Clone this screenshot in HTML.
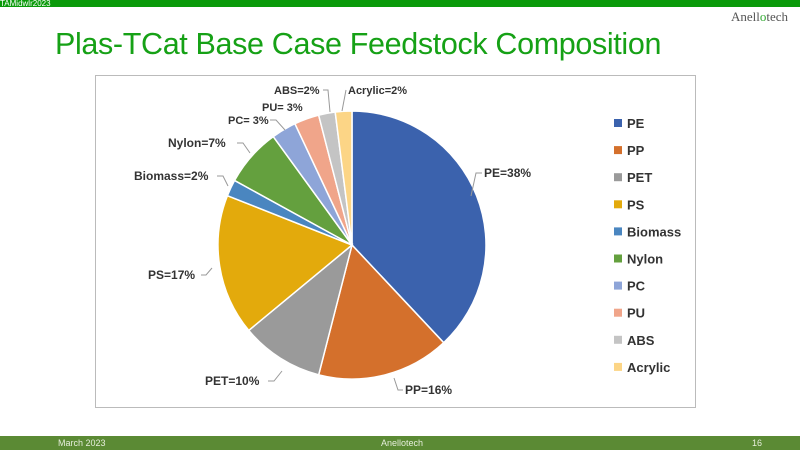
<!DOCTYPE html>
<html><head><meta charset="utf-8"><style>
body{margin:0;width:800px;height:450px;overflow:hidden;background:#fff;font-family:"Liberation Sans",sans-serif;position:relative}
.top{position:absolute;left:0;top:0;width:800px;height:7px;background:#0a9a0a}
.tt{position:absolute;left:0;top:0;font-size:8px;color:#fff;line-height:8px}
.logo{position:absolute;right:12px;top:9px;font-family:"Liberation Serif",serif;font-size:13px;color:#555}
.title{position:absolute;left:55px;top:27px;font-size:30.5px;color:#16a116;letter-spacing:-0.35px}
.foot{position:absolute;left:0;top:436px;width:800px;height:14px;background:#5b8a34;color:#e6eedc;font-size:9px;line-height:14px}
</style></head><body>
<div class="top"></div><div class="tt">TAMidwlr2023</div>
<div class="logo">Anell<span style="color:#3a3">o</span>tech</div>
<div class="title">Plas-TCat Base Case Feedstock Composition</div>
<svg width="800" height="450" style="position:absolute;left:0;top:0" id="s">
<rect x="95.5" y="75.5" width="600" height="332" fill="#fff" stroke="#bbb"/>
<g id="pie"></g>
<g font-family="Liberation Sans,sans-serif" font-weight="bold" font-size="12" fill="#333">
<text x="484" y="177">PE=38%</text>
<text x="405" y="394">PP=16%</text>
<text x="205" y="385">PET=10%</text>
<text x="148" y="279">PS=17%</text>
<text x="134" y="180">Biomass=2%</text>
<text x="168" y="147">Nylon=7%</text>
<text x="228" y="124" font-size="11">PC= 3%</text>
<text x="262" y="111" font-size="11">PU= 3%</text>
<text x="274" y="94" font-size="11">ABS=2%</text>
<text x="348" y="94" font-size="11">Acrylic=2%</text>
</g>
<g stroke="#999" fill="none" stroke-width="1">
<path d="M482 173 H476 L471 196"/>
<path d="M403 390 H398 L394 378"/>
<path d="M268 381 H274 L282 371"/>
<path d="M201 275 H206 L212 268"/>
<path d="M217 176 H223 L228 186"/>
<path d="M237 143 H243 L250 153"/>
<path d="M270 120 H276 L285 130"/>
<path d="M323 90 H328 L330 112"/>
<path d="M346 90 L342 111"/>
</g>
<g id="leg" font-family="Liberation Sans,sans-serif" font-weight="bold" font-size="13" fill="#333"></g>
</svg>
<div class="foot"><span style="position:absolute;left:58px">March 2023</span><span style="position:absolute;left:381px">Anellotech</span><span style="position:absolute;left:752px">16</span></div>
<script>
var d=[["PE",38,"#3b62ad"],["PP",16,"#d4702c"],["PET",10,"#9a9a9a"],["PS",17,"#e3aa0c"],["Biomass",2,"#4a86c0"],["Nylon",7,"#64a03e"],["PC",3,"#8ea5d8"],["PU",3,"#f0a58a"],["ABS",2,"#c4c4c4"],["Acrylic",2,"#fcd586"]];
var cx=352,cy=245,r=134,a=0,p="",l="";
d.forEach(function(e,i){var a2=a+e[1]/100*2*Math.PI;
var x1=cx+r*Math.sin(a),y1=cy-r*Math.cos(a),x2=cx+r*Math.sin(a2),y2=cy-r*Math.cos(a2);
p+='<path d="M'+cx+' '+cy+' L'+x1+' '+y1+' A'+r+' '+r+' 0 '+(a2-a>Math.PI?1:0)+' 1 '+x2+' '+y2+' Z" fill="'+e[2]+'" stroke="#fff" stroke-width="1.5"/>';
a=a2;var y=123+i*27.1;
l+='<rect x="614" y="'+(y-4)+'" width="8" height="8" fill="'+e[2]+'"/><text x="627" y="'+(y+5)+'">'+e[0]+'</text>';});
document.getElementById("pie").innerHTML=p;document.getElementById("leg").innerHTML=l;
</script>
</body></html>
